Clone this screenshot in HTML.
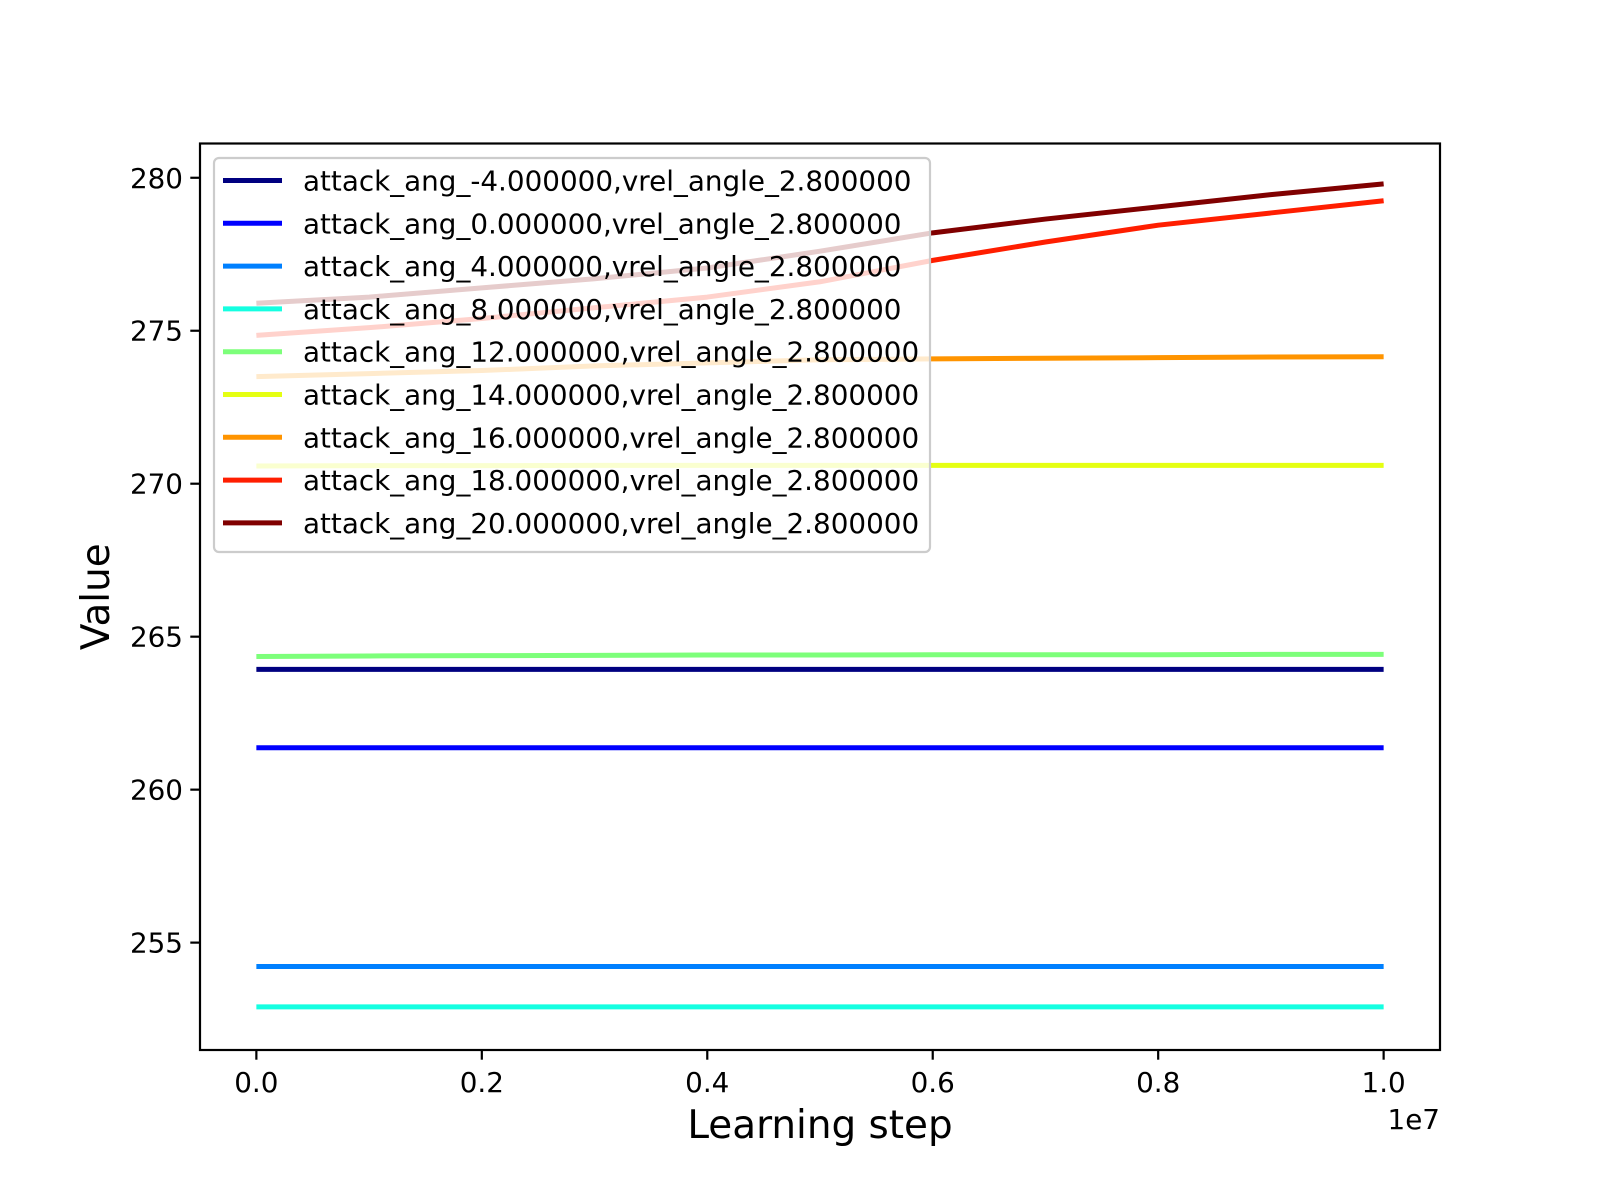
<!DOCTYPE html>
<html><head><meta charset="utf-8"><style>
html,body{margin:0;padding:0;background:#fff;}
svg{display:block;font-family:"DejaVu Sans","Liberation Sans",sans-serif;}
</style></head><body>
<svg id="chart" width="1600" height="1200" viewBox="0 0 1600 1200">
<rect width="1600" height="1200" fill="#fff"/>
<g id="lines"></g>
<g id="axes"></g>
<g id="legend"></g>
</svg>
<script>
const steps = [0,1e6,2e6,3e6,4e6,5e6,6e6,7e6,8e6,9e6,1e7];
const labels = ["attack_ang_-4.000000,vrel_angle_2.800000","attack_ang_0.000000,vrel_angle_2.800000","attack_ang_4.000000,vrel_angle_2.800000","attack_ang_8.000000,vrel_angle_2.800000","attack_ang_12.000000,vrel_angle_2.800000","attack_ang_14.000000,vrel_angle_2.800000","attack_ang_16.000000,vrel_angle_2.800000","attack_ang_18.000000,vrel_angle_2.800000","attack_ang_20.000000,vrel_angle_2.800000"];
const colors = ["#000080","#0000ff","#0080ff","#15ffe1","#7dff7a","#e5ff12","#ff9400","#ff1e00","#800000"];
const sM4 = [263.93,263.93,263.93,263.93,263.93,263.93,263.93,263.93,263.93,263.93,263.93];
const s0 = [261.37,261.37,261.37,261.37,261.37,261.37,261.37,261.37,261.37,261.37,261.37];
const s4 = [254.22,254.22,254.22,254.22,254.22,254.22,254.22,254.22,254.22,254.22,254.22];
const s8 = [252.9,252.9,252.9,252.9,252.9,252.9,252.9,252.9,252.9,252.9,252.9];
const s12 = [264.35,264.37,264.38,264.39,264.4,264.4,264.41,264.41,264.41,264.42,264.42];
const s14 = [270.58,270.59,270.59,270.6,270.6,270.6,270.6,270.6,270.6,270.6,270.6];
const s16 = [273.5,273.6,273.7,273.85,273.95,274.05,274.08,274.1,274.12,274.14,274.15];
const s18 = [274.85,275.1,275.4,275.75,276.1,276.6,277.3,277.9,278.45,278.85,279.25];
const s20 = [275.9,276.1,276.4,276.7,277.05,277.6,278.2,278.65,279.05,279.45,279.8];
const series = [sM4,s0,s4,s8,s12,s14,s16,s18,s20];
const yTicks = [255,260,265,270,275,280];
const xTicks = [0,2e6,4e6,6e6,8e6,1e7];
const xTickLabels = ["0.0","0.2","0.4","0.6","0.8","1.0"];

const L=200,R=1440,T=143.5,B=1050;
const xMin=-0.5e6,xMax=1.05e7,yMin=251.49,yMax=281.12;
const X=v=>L+(v-xMin)/(xMax-xMin)*(R-L);
const Y=v=>B-(v-yMin)/(yMax-yMin)*(B-T);
const NS="http://www.w3.org/2000/svg";
function mk(tag,attrs,parent){const e=document.createElementNS(NS,tag);for(const k in attrs)e.setAttribute(k,attrs[k]);parent.appendChild(e);return e;}
const gl=document.getElementById('lines'),ga=document.getElementById('axes'),gg=document.getElementById('legend');
series.forEach((s,i)=>{
  const p=mk('polyline',{points:s.map((v,j)=>X(steps[j])+','+Y(v)).join(' '),fill:'none',stroke:colors[i],'stroke-width':5,'stroke-linejoin':'round'},gl);
  
  
});
const frame=mk('rect',{x:L,y:T,width:R-L,height:B-T,fill:'none',stroke:'#000','stroke-width':2.2},ga);


yTicks.forEach(v=>{
  mk('line',{x1:L,x2:L-9.7,y1:Y(v),y2:Y(v),stroke:'#000','stroke-width':2.2},ga);
  const t=mk('text',{x:L-17,y:Y(v)+10,'text-anchor':'end','font-size':27.8},ga);
  t.textContent=v;
  
  
});
xTicks.forEach((v,i)=>{
  mk('line',{x1:X(v),x2:X(v),y1:B,y2:B+9.7,stroke:'#000','stroke-width':2.2},ga);
  const t=mk('text',{x:X(v),y:B+42,'text-anchor':'middle','font-size':27.8},ga);
  t.textContent=xTickLabels[i];
  
  
});
const oe=mk('text',{x:R,y:B+79,'text-anchor':'end','font-size':27.8},ga);
oe.textContent='1e7';


const xl=mk('text',{x:(L+R)/2,y:1138,'text-anchor':'middle','font-size':38.9},ga);
xl.textContent='Learning step';


const yl=mk('text',{x:0,y:0,'text-anchor':'middle','font-size':38.9,transform:'translate(109,'+((T+B)/2)+') rotate(-90)'},ga);
yl.textContent='Value';


const box=mk('rect',{x:214,y:158,width:716,height:394,rx:5,fill:'rgba(255,255,255,0.8)',stroke:'#cccccc','stroke-width':2.2},gg);


labels.forEach((lab,i)=>{
  const y=180.5+42.8*i;
  const ln=mk('line',{x1:223,x2:282,y1:y,y2:y,stroke:colors[i],'stroke-width':5},gg);
  
  
  const t=mk('text',{x:303,y:y+10,'font-size':27.8},gg);
  t.textContent=lab;
  
  
});
</script>
</body></html>
